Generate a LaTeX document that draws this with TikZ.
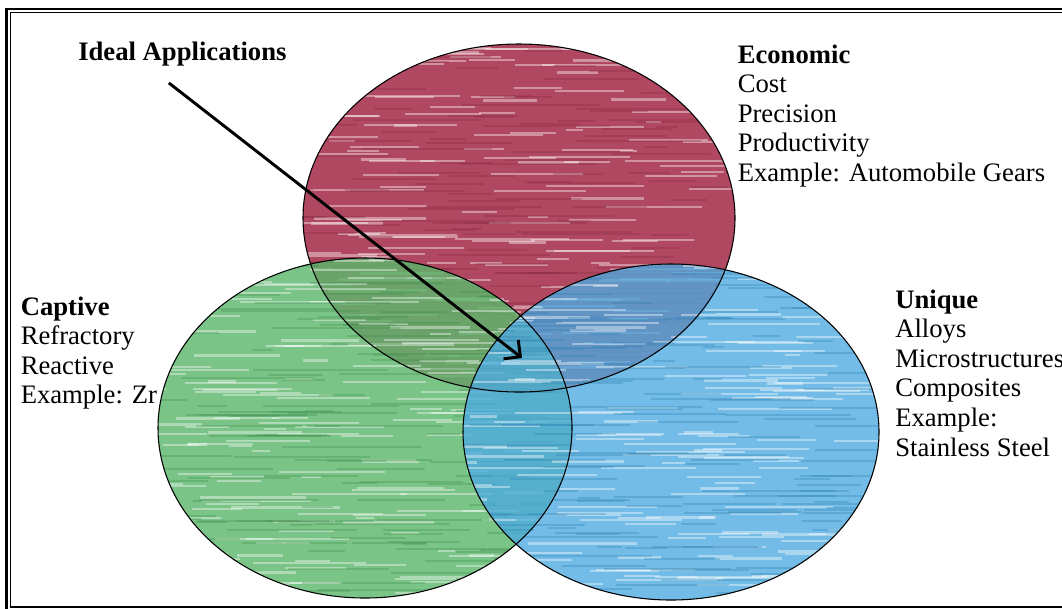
\documentclass[tikz,border=0pt]{standalone}
\usepackage{fontspec}
\setmainfont{Liberation Serif}
\usetikzlibrary{arrows.meta}
\definecolor{econ}{RGB}{168,52,80}
\definecolor{capt}{RGB}{74,176,92}
\definecolor{uniq}{RGB}{56,160,222}
\newcommand\mystreaks[5]{%
  \foreach \k in {1,...,170}{%
    \pgfmathsetmacro\yy{#2-#4+rnd*2*#4}%
    \pgfmathsetmacro\xx{#1-#3-40+rnd*2*#3}%
    \pgfmathsetmacro\ll{15+rnd*100}%
    \draw[white, opacity=0.40, line width=1.6pt] (\xx,\yy) -- ++(\ll,0);
  }%
  \foreach \k in {1,...,140}{%
    \pgfmathsetmacro\yy{#2-#4+rnd*2*#4}%
    \pgfmathsetmacro\xx{#1-#3-40+rnd*2*#3}%
    \pgfmathsetmacro\ll{20+rnd*120}%
    \draw[#5!80!black, opacity=0.30, line width=1.5pt] (\xx,\yy) -- ++(\ll,0);
  }%
}
\begin{document}
\begin{tikzpicture}[x=0.75pt,y=-0.75pt,
  lbl/.style={anchor=base west, inner sep=0pt, font=\fontsize{20}{22.2}\selectfont, align=left},
  ring/.style={draw=black, line width=0.8pt},
  framestyle/.style={draw=black}]
\useasboundingbox (0,0) rectangle (1062,608);
\clip (0,0) rectangle (1062,608);
\fill[white] (0,0) rectangle (1062,608);
\pgfmathsetseed{11}
% economic
\begin{scope}
  \clip (519,218) ellipse [x radius=216, y radius=174];
  \fill[econ!90] (519,218) ellipse [x radius=216, y radius=174];
  \mystreaks{519}{218}{216}{174}{econ}
\end{scope}
% captive
\begin{scope}
  \clip (365,428) ellipse [x radius=207, y radius=170];
  \fill[capt!90, fill opacity=0.82] (365,428) ellipse [x radius=207, y radius=170];
  \mystreaks{365}{428}{207}{170}{capt}
\end{scope}
% unique
\begin{scope}
  \clip (671,432) ellipse [x radius=208, y radius=168];
  \fill[uniq!90, fill opacity=0.78] (671,432) ellipse [x radius=208, y radius=168];
  \mystreaks{671}{432}{208}{168}{uniq}
\end{scope}
\draw[ring] (519,218) ellipse [x radius=216, y radius=174];
\draw[ring] (365,428) ellipse [x radius=207, y radius=170];
\draw[ring] (671,432) ellipse [x radius=208, y radius=168];
% frame
\draw[framestyle, line width=1.8pt] (6.4,9) rectangle (1080,625);
\draw[framestyle, line width=0.8pt] (10.5,12.5) rectangle (1075,607);
% texts
\node[lbl] (ideal) at (78,60) {\bfseries Ideal Applications};
\node[lbl] (econtxt) at (737.5,63) {\begin{tabular}[t]{@{}l@{}}\bfseries Economic\\ Cost\\ Precision\\ Productivity\\ Example: Automobile Gears\end{tabular}};
\node[lbl] (capttxt) at (20.5,315) {\begin{tabular}[t]{@{}l@{}}\bfseries Captive\\ Refractory\\ Reactive\\ Example: Zr\end{tabular}};
\node[lbl] (uniqtxt) at (895,308) {\begin{tabular}[t]{@{}l@{}}\bfseries Unique\\ Alloys\\ Microstructures\\ Composites\\ Example:\\ Stainless Steel\end{tabular}};
% arrow
\coordinate (tip) at (522,358);
\draw[line width=2.2pt, -{Straight Barb[length=9pt,width=18pt]}] ([shift={(-13.5,17)}]ideal.south) -- (tip);
\end{tikzpicture}
\end{document}
